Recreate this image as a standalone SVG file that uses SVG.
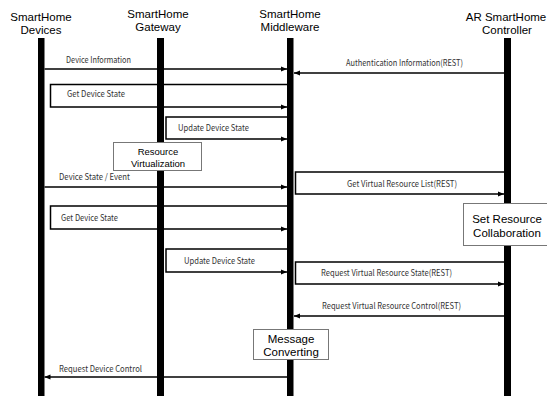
<svg xmlns="http://www.w3.org/2000/svg" width="547" height="396" viewBox="0 0 547 396">
<defs>
<style>
.hdr{font-family:"Liberation Sans",Arial,sans-serif;font-size:11.5px;fill:#000;text-anchor:middle}
.lbl{font-family:"Noto Sans CJK KR","Liberation Sans",sans-serif;font-size:8.6px;fill:#333}
.box{fill:#fff;stroke:#777;stroke-width:1}
.btxt{font-family:"Liberation Sans",Arial,sans-serif;font-size:11.5px;fill:#000;text-anchor:middle}
.small{font-size:9.5px}
.life{fill:#000}
.msg{fill:none;stroke:#000;stroke-width:1.5}
.arr{marker-end:url(#ah)}
</style>
<marker id="ah" markerUnits="userSpaceOnUse" markerWidth="6" markerHeight="6" refX="6" refY="3" orient="auto">
<path d="M0,0.5 L6,3 L0,5.5 z" fill="#000"/>
</marker>
</defs>
<rect width="547" height="396" fill="#fff"/>

<g id="devices">
<text class="hdr" x="41" y="20.5">SmartHome</text>
<text class="hdr" x="41" y="34">Devices</text>
<rect class="life" x="38" y="38" width="6.5" height="358"/>
</g>
<g id="gateway">
<text class="hdr" x="158" y="17.5">SmartHome</text>
<text class="hdr" x="158" y="31">Gateway</text>
<rect class="life" x="157" y="38" width="7" height="358"/>
</g>
<g id="middleware">
<text class="hdr" x="290" y="17.5">SmartHome</text>
<text class="hdr" x="290" y="31">Middleware</text>
<rect class="life" x="287" y="38" width="6.5" height="358"/>
</g>
<g id="controller">
<text class="hdr" x="506" y="20.5">AR SmartHome</text>
<text class="hdr" x="507" y="34">Controller</text>
<rect class="life" x="504" y="38" width="7" height="358"/>
</g>

<g id="connectors">
<path class="msg arr" d="M44.5,69 H287"/>
<text class="lbl" x="66" y="63" textLength="65" lengthAdjust="spacingAndGlyphs">Device Information</text>

<path class="msg arr" d="M504,73 H294"/>
<text class="lbl" x="346" y="66" textLength="117" lengthAdjust="spacingAndGlyphs">Authentication Information(REST)</text>

<path class="msg arr" d="M287,84.5 H50.5 V107 H287"/>
<text class="lbl" x="67" y="97" textLength="58" lengthAdjust="spacingAndGlyphs">Get Device State</text>

<path class="msg arr" d="M287,117 H166 V139 H287"/>
<text class="lbl" x="178" y="131" textLength="71" lengthAdjust="spacingAndGlyphs">Update Device State</text>

<path class="msg arr" d="M44.5,187 H287"/>
<text class="lbl" x="59" y="180" textLength="71" lengthAdjust="spacingAndGlyphs">Device State / Event</text>

<path class="msg arr" d="M504,172 H295.5 V194 H504"/>
<text class="lbl" x="347" y="187" textLength="110" lengthAdjust="spacingAndGlyphs">Get Virtual Resource List(REST)</text>

<path class="msg arr" d="M287,206 H50.5 V229 H287"/>
<text class="lbl" x="61" y="221" textLength="57" lengthAdjust="spacingAndGlyphs">Get Device State</text>

<path class="msg arr" d="M287,249 H166 V272 H287"/>
<text class="lbl" x="184" y="264" textLength="71" lengthAdjust="spacingAndGlyphs">Update Device State</text>

<path class="msg arr" d="M504,262 H295.5 V284 H504"/>
<text class="lbl" x="321" y="276" textLength="131" lengthAdjust="spacingAndGlyphs">Request Virtual Resource State(REST)</text>

<path class="msg arr" d="M504,316 H294"/>
<text class="lbl" x="322" y="309" textLength="139" lengthAdjust="spacingAndGlyphs">Request Virtual Resource Control(REST)</text>

<path class="msg arr" d="M287,377 H44.5"/>
<text class="lbl" x="59" y="372" textLength="83" lengthAdjust="spacingAndGlyphs">Request Device Control</text>
</g>

<g id="resource-virtualization">
<rect class="box" x="113.5" y="142.5" width="88" height="28"/>
<text class="btxt small" x="158" y="155">Resource</text>
<text class="btxt small" x="158" y="167">Virtualization</text>
</g>
<g id="set-resource-collaboration">
<rect class="box" x="463.5" y="203.5" width="88" height="42"/>
<text class="btxt" x="507" y="223">Set Resource</text>
<text class="btxt" x="507" y="236.5">Collaboration</text>
</g>
<g id="message-converting">
<rect class="box" x="253.5" y="329.5" width="75" height="30"/>
<text class="btxt" x="291" y="342.5">Message</text>
<text class="btxt" x="291" y="356">Converting</text>
</g>
</svg>
